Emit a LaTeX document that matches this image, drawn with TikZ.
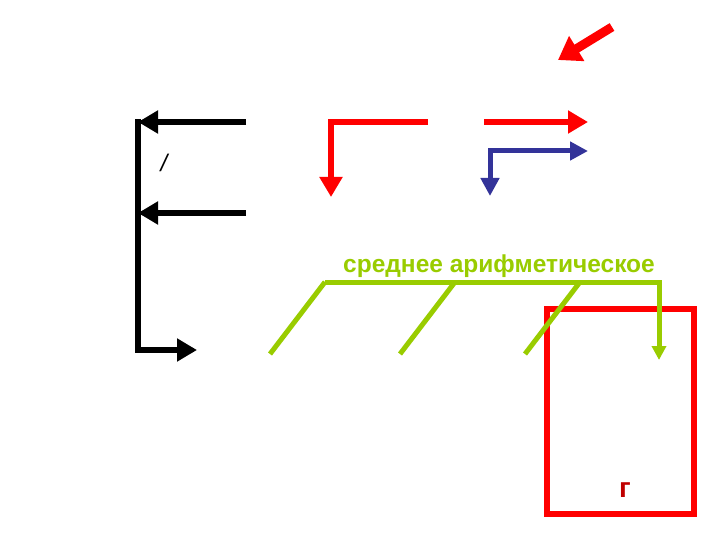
\documentclass[tikz,border=0pt]{standalone}
\usepackage{fontspec}
\setmainfont{Liberation Sans}
\usetikzlibrary{arrows.meta}
\definecolor{lgreen}{RGB}{153,204,0}
\definecolor{dred}{RGB}{192,0,0}
\definecolor{navy}{RGB}{51,51,153}
\tikzset{
  thick line/.style={line width=6pt},
  tip/.style={-{Triangle[length=20pt,width=22pt]}},
  gline/.style={line width=5pt,color=lgreen},
}
\begin{document}
\begin{tikzpicture}[x=1pt,y=-1pt]
\useasboundingbox (0,0) rectangle (720,540);
% black
\coordinate (b1) at (246,122);
\coordinate (b2) at (138,122);
\coordinate (b3) at (246,213);
\coordinate (b4) at (138,213);
\coordinate (b5) at (138,350);
\coordinate (b6) at (197,350);
\draw[thick line, line cap=rect] (b2) -- (b5);
\draw[thick line, tip] (b1) -- (b2);
\draw[thick line, tip] (b3) -- (b4);
\draw[thick line, tip] (b5) -- (b6);
\node[font=\itshape\fontsize{24}{24}\selectfont] (l) at (164,163) {/};
% red and blue
\coordinate (r1) at (428,122);
\coordinate (r2) at (331,122);
\coordinate (r3) at (331,197);
\draw[thick line, red, tip] (r1) -- (r2) -- (r3);
\coordinate (r4) at (484,122);
\coordinate (r5) at (588,122);
\draw[thick line, red, tip] (r4) -- (r5);
\coordinate (u1) at (490,196);
\coordinate (u2) at (490,151);
\coordinate (u3) at (588,151);
\draw[line width=5pt, navy, {Triangle[length=18pt,width=18pt]}-{Triangle[length=18pt,width=18pt]}] (u1) -- (u2) -- (u3);
\coordinate (d1) at (612,27);
\coordinate (d2) at (558,60);
\draw[line width=9pt, red, -{Triangle[length=22pt,width=28pt]}] (d1) -- (d2);
% red rectangle
\node[draw=red, line width=6pt, minimum width=147pt, minimum height=205pt, inner sep=0pt] (box) at (620.5,411.5) {};
\node[text=dred, font=\bfseries\fontsize{28}{28}\selectfont] (g) at (625,490) {г};
% green
\node[text=lgreen, font=\bfseries\fontsize{24.5}{24.5}\selectfont] (t) at (499,266) {среднее арифметическое};
\coordinate (h1) at (325,282);
\coordinate (h2) at (455,282);
\coordinate (h3) at (580,282);
\coordinate (h4) at (659,282);
\coordinate (h5) at (659,360);
\coordinate (e1) at (270,354);
\coordinate (e2) at (400,354);
\coordinate (e3) at (525,354);
\draw[gline, -{Triangle[length=14pt,width=14pt]}] (h1) -- (h4) -- (h5);
\draw[gline] (h1) -- (e1);
\draw[gline] (h2) -- (e2);
\draw[gline] (h3) -- (e3);
\end{tikzpicture}
\end{document}
